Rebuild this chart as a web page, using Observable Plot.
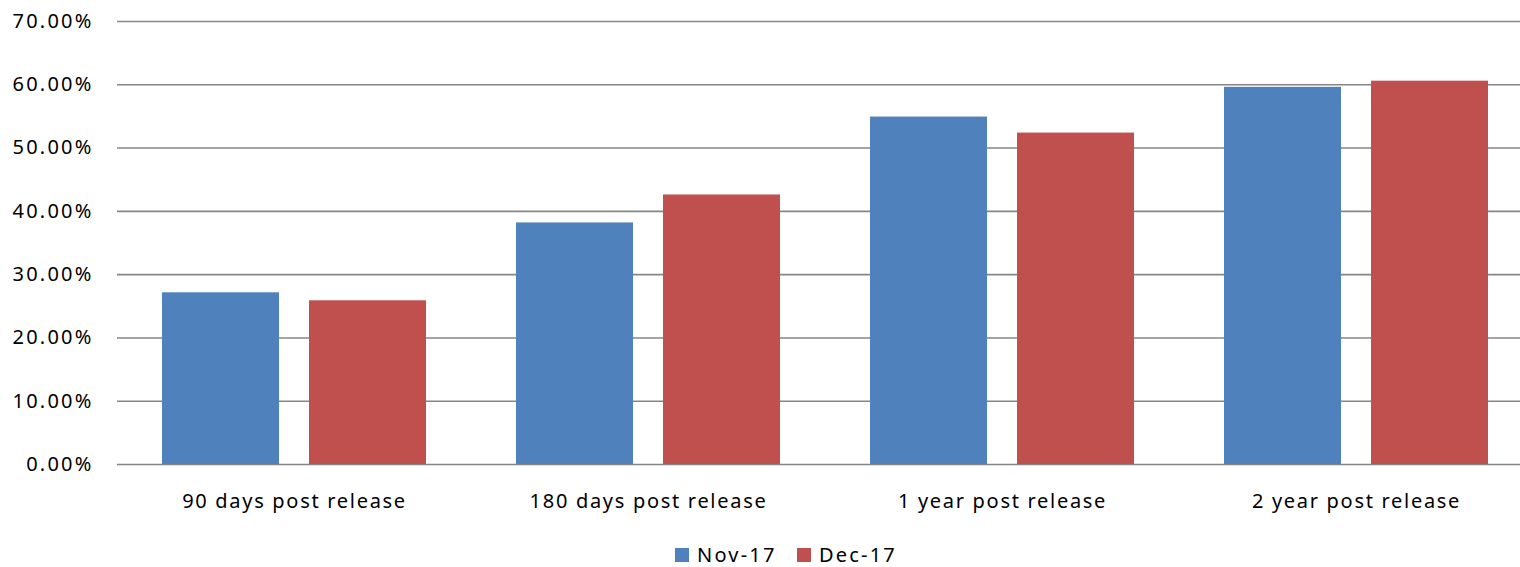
<!DOCTYPE html>
<html>
<head>
<meta charset="utf-8">
<script src="https://cdn.jsdelivr.net/npm/d3@7"></script>
<script src="https://cdn.jsdelivr.net/npm/@observablehq/plot@0.6"></script>
<style>
  html, body { margin: 0; padding: 0; background: #fff; }
  body { width: 1520px; height: 567px; overflow: hidden; font-family: "Noto Sans", sans-serif; }
  #chart { width: 1520px; height: 525px; overflow: hidden; }
  #chart svg { max-width: none !important; width: 1533px !important; height: 525px !important; }
  #chart g[aria-label="y-axis tick label"] text { letter-spacing: 2.2px; }
  #chart g[aria-label="fx-axis tick label"] text { letter-spacing: 1.7px; }
  #legend { position: relative; height: 42px; }
  .item { position: absolute; top: 20px; display: flex; align-items: center; font-size: 20px; color: #000; letter-spacing: 2.2px; line-height: 20px; }
  .sw { width: 14px; height: 14px; margin-right: 8px; }
</style>
</head>
<body>
<div id="chart"></div>
<div id="legend"></div>
<script>
const categories = ["90 days post release", "180 days post release", "1 year post release", "2 year post release"];
const seriesNames = ["Nov-17", "Dec-17"];
const nov17 = [27.13, 38.17, 54.9, 59.6];
const dec17 = [25.87, 42.59, 52.37, 60.57];
const yTicks = [0, 10, 20, 30, 40, 50, 60, 70];
const colors = ["#4F81BD", "#C0504D"];

const rows = [];
categories.forEach((c, i) => {
  rows.push({category: c, series: seriesNames[0], value: nov17[i]});
  rows.push({category: c, series: seriesNames[1], value: dec17[i]});
});

const chart = Plot.plot({
  width: 1533,
  height: 525,
  marginLeft: 116,
  marginRight: 0,
  marginTop: 21,
  marginBottom: 61,
  style: {fontFamily: "Noto Sans, sans-serif", fontSize: "20px", color: "#000", background: "#fff", overflow: "hidden"},
  fx: {domain: categories, padding: 0, label: null},
  x: {domain: seriesNames, paddingInner: 0.2027, paddingOuter: 0.298, axis: null},
  y: {domain: [0, 70], label: null},
  color: {domain: seriesNames, range: colors},
  marks: [
    Plot.gridY(yTicks, {stroke: "#868686", strokeOpacity: 1, strokeWidth: 1.6}),
    Plot.axisY(yTicks, {tickSize: 0, tickPadding: 24, tickFormat: d => d.toFixed(2) + "%", label: null, fontSize: 20}),
    Plot.barY(rows, {fx: "category", x: "series", y: "value", fill: "series"}),
    Plot.axisFx({anchor: "bottom", tickSize: 0, tickPadding: 29, label: null, fontSize: 20})
  ]
});
document.getElementById("chart").appendChild(chart);

const legend = document.getElementById("legend");
const lefts = [675, 797];
seriesNames.forEach((s, i) => {
  const it = document.createElement("div");
  it.className = "item";
  it.style.left = lefts[i] + "px";
  it.innerHTML = `<span class="sw" style="background:${colors[i]}"></span><span>${s}</span>`;
  legend.appendChild(it);
});
</script>
</body>
</html>
